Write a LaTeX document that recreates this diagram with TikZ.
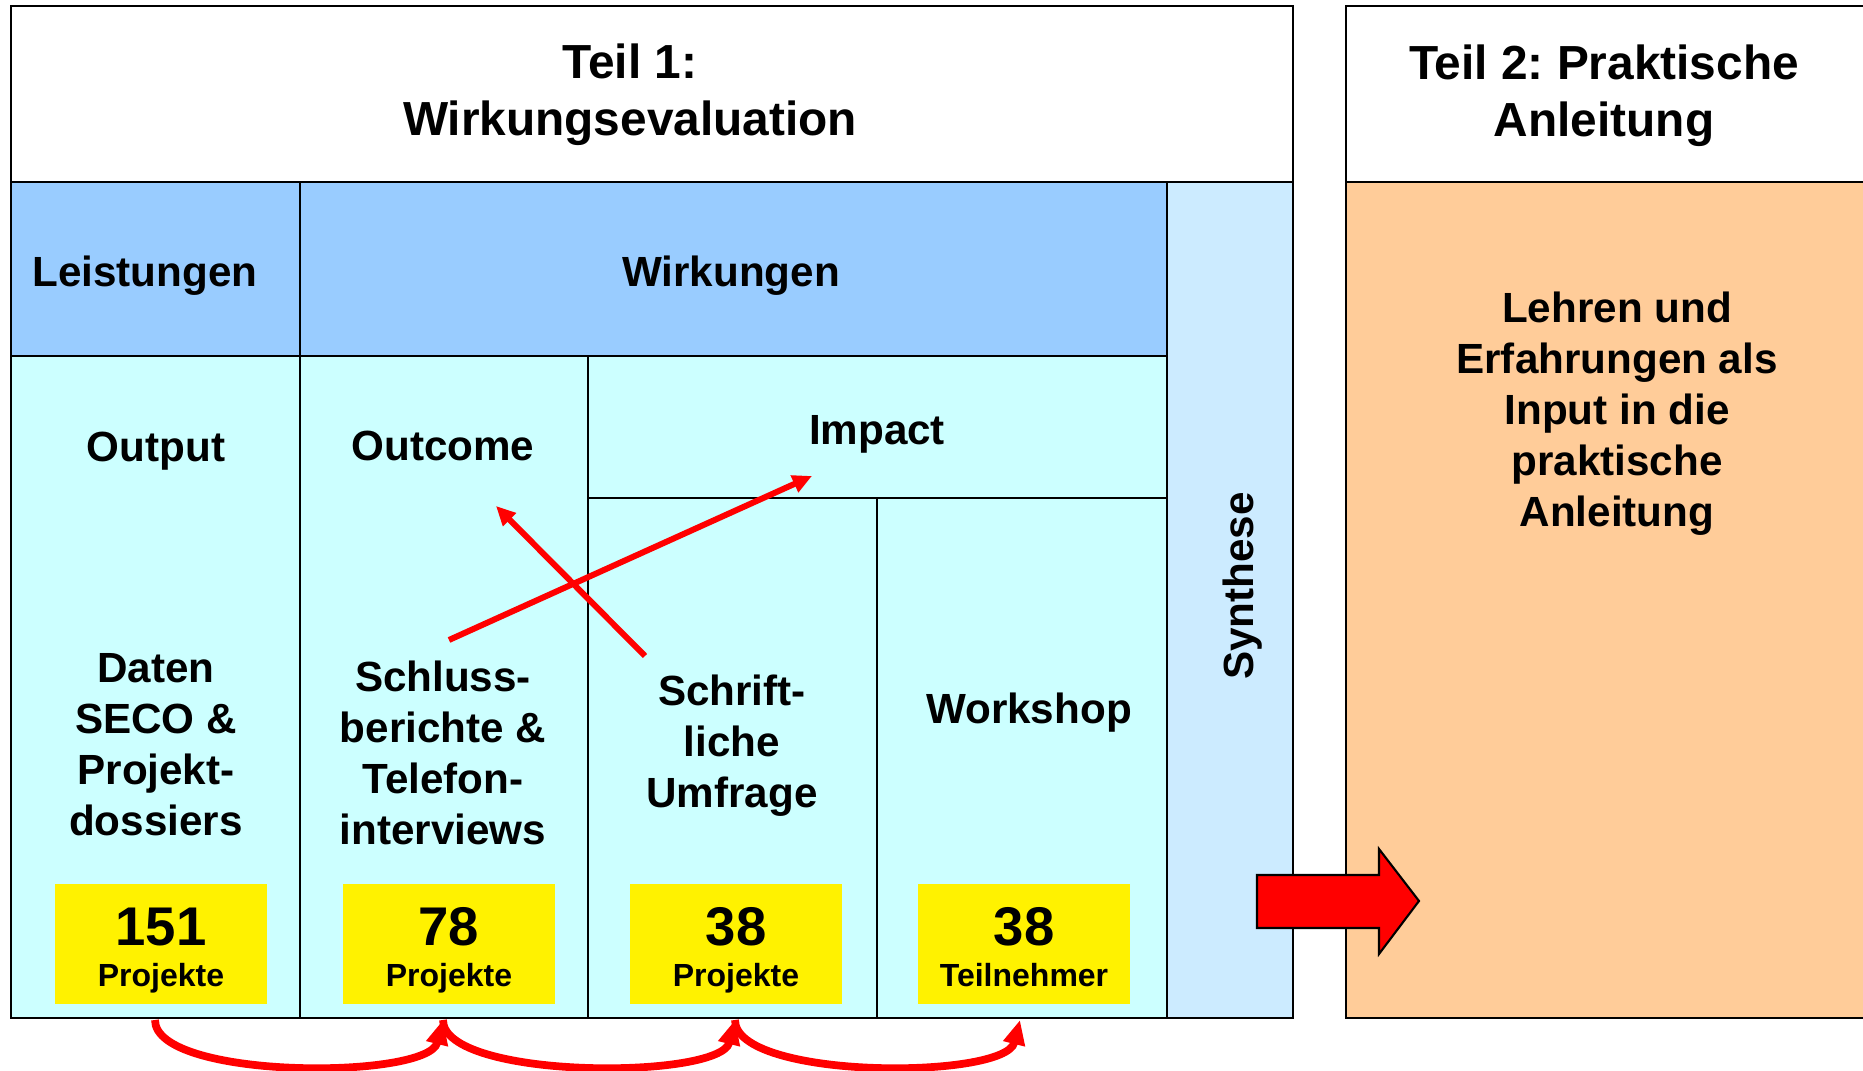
\documentclass[tikz,border=0pt]{standalone}
\usepackage{fontspec}
\setmainfont{Liberation Sans}
\usetikzlibrary{calc,arrows.meta}
\definecolor{headblue}{HTML}{99CCFF}
\definecolor{cellcyan}{HTML}{CCFFFF}
\definecolor{synthblue}{HTML}{CCEBFF}
\definecolor{peach}{HTML}{FFCC99}
\frenchspacing

\begin{document}
\begin{tikzpicture}[x=0.01cm, y=-0.01cm,
    cell/.style={draw=black, line width=0.6pt},
    headtxt/.style={font=\bfseries\fontsize{13.6}{16.2}\selectfont, align=center},
    txt/.style={font=\bfseries\fontsize{12}{14.5}\selectfont, align=center},
    countbox/.style={fill=yellow, minimum width=2.11cm, minimum height=1.2cm, inner sep=0pt},
    bignum/.style={font=\bfseries\fontsize{15.5}{17}\selectfont},
    unittxt/.style={font=\bfseries\fontsize{9.1}{11}\selectfont, anchor=base},
    redarrow/.style={red, line width=1.7pt, -{Triangle[length=5.5pt,width=5pt]}},
    hop/.style={red, line width=2.2pt, -{Triangle[length=7pt,width=6pt]}}
  ]
  \useasboundingbox (0,0) rectangle (1863,1071);
  \fill[white] (0,0) rectangle (1863,1071);

  % Teil 1
  \draw[cell, fill=white] (11,6) rectangle (1293,182);
  \draw[cell, fill=headblue] (11,182) rectangle (300,356);
  \draw[cell, fill=headblue] (300,182) rectangle (1167,356);
  \draw[cell, fill=synthblue] (1167,182) rectangle (1293,1018);
  \draw[cell, fill=cellcyan] (11,356) rectangle (300,1018);
  \draw[cell, fill=cellcyan] (300,356) rectangle (588,1018);
  \draw[cell, fill=cellcyan] (588,356) rectangle (1167,498);
  \draw[cell, fill=cellcyan] (588,498) rectangle (877,1018);
  \draw[cell, fill=cellcyan] (877,498) rectangle (1167,1018);

  % Teil 2
  \fill[peach] (1346,182) rectangle (1863,1018);
  \draw[cell] (1863,6) -- (1346,6) -- (1346,1018) -- (1863,1018);
  \draw[cell] (1346,182) -- (1863,182);

  \node[headtxt] (teil1) at (630,95) {Teil 1:\\Wirkungsevaluation};
  \node[headtxt] (teil2) at (1604,96) {Teil 2: Praktische\\Anleitung};
  \node[txt] (leist) at (145,276) {Leistungen};
  \node[txt] (wirk) at (731,276) {Wirkungen};
  \node[txt] (output) at (156,451) {Output};
  \node[txt] (outcome) at (443,446) {Outcome};
  \node[txt] (impact) at (877,434) {Impact};
  \node[txt] (daten) at (156,745) {Daten\\SECO \&\\Projekt-\\dossiers};
  \node[txt] (schluss) at (443,753) {Schluss-\\berichte \&\\Telefon-\\interviews};
  \node[txt] (umfrage) at (732,746) {Schrift-\\liche\\Umfrage};
  \node[txt] (workshop) at (1029,713) {Workshop};
  \node[txt, rotate=90] (synth) at (1243,586) {Synthese};
  \node[txt] (lehren) at (1617,414) {Lehren und\\Erfahrungen als\\Input in die\\praktische\\Anleitung};

  \foreach \x/\n/\w [count=\i] in {161/151/Projekte, 449/78/Projekte, 736/38/Projekte, 1024/38/Teilnehmer} {
    \node[countbox] (cnt\i) at (\x,944) {};
    \node[bignum] (num\i) at (\x,927) {\n};
    \node[unittxt] (unit\i) at (\x,987) {\w};
  }

  % Pfeile
  \coordinate (a1) at (449,640);
  \coordinate (a2) at (812,476);
  \coordinate (b1) at (645,656);
  \coordinate (b2) at (496,506);
  \draw[redarrow] (a1) -- (a2);
  \draw[redarrow] (b1) -- (b2);

  \coordinate (f1) at (155,1020);
  \coordinate (f2) at (443,1020);
  \coordinate (f3) at (735,1020);
  \coordinate (f4) at (1020,1020);
  \draw[hop] (f1) .. controls +(0,60) and +(-15,60) .. (f2);
  \draw[hop] (f2) .. controls +(0,60) and +(-15,60) .. (f3);
  \draw[hop] (f3) .. controls +(0,60) and +(-15,60) .. (f4);

  \draw[fill=red, line width=0.6pt] (1257,875) -- (1379,875) -- (1379,849) -- (1419,901)
    -- (1379,954) -- (1379,928) -- (1257,928) -- cycle;
\end{tikzpicture}
\end{document}
